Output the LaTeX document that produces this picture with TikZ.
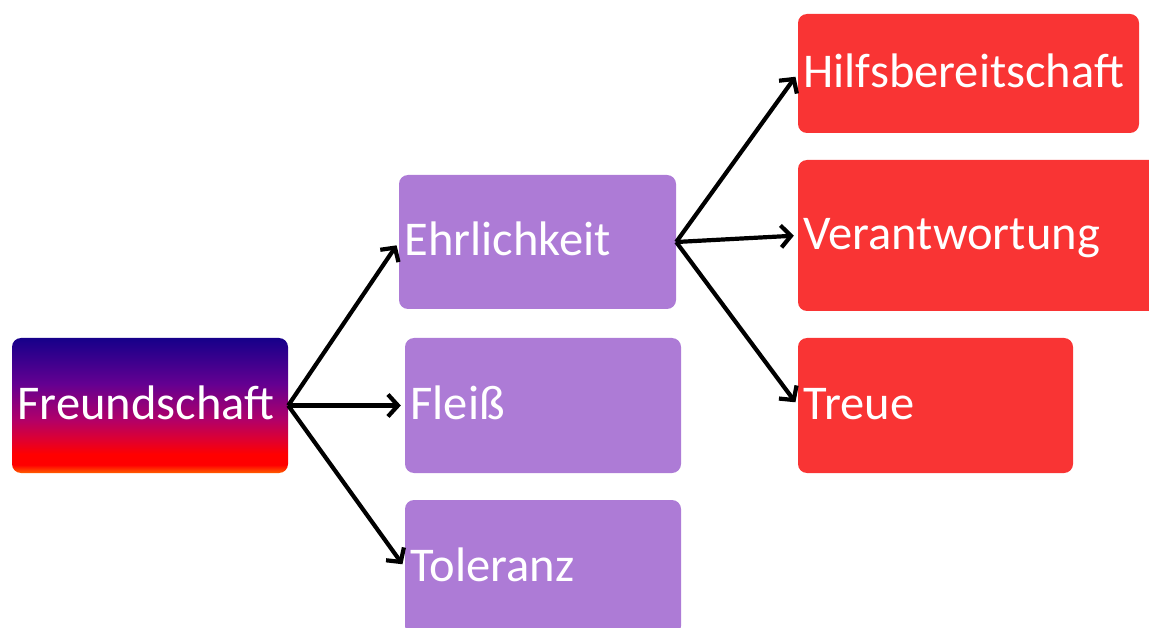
\documentclass[tikz,border=0pt]{standalone}
\usepackage{fontspec}
\setmainfont{Carlito}
\usetikzlibrary{arrows.meta}

\definecolor{lila}{RGB}{173,123,214}
\definecolor{rot}{RGB}{249,52,52}
\definecolor{tiefblau}{RGB}{22,0,138}
\definecolor{violett}{RGB}{100,0,145}
\definecolor{magenta1}{RGB}{176,0,106}
\definecolor{rotmag}{RGB}{225,0,45}
\definecolor{orangerot}{RGB}{255,95,0}

% top-to-bottom colour run of the root box (usable range 25bp..75bp)
\pgfdeclareverticalshading{wurzel}{100bp}{%
  color(0bp)=(orangerot);
  color(25bp)=(orangerot);
  color(28bp)=(red);
  color(32bp)=(red);
  color(37bp)=(rotmag);
  color(45bp)=(magenta1);
  color(58bp)=(violett);
  color(75bp)=(tiefblau);
  color(100bp)=(tiefblau)}

\tikzset{
  box/.style={rounded corners=9pt, font=\fontsize{48.5}{52}\selectfont,
    text=white, align=left, inner xsep=5.5pt, inner ysep=0pt,
    text height=33pt, text depth=5pt},
  lilabox/.style={box, fill=lila},
  rotbox/.style={box, fill=rot},
  pfeil/.style={line width=4.2pt, -{Straight Barb[length=10pt,width=22pt]},
    shorten >=4pt}
}

\begin{document}
\begin{tikzpicture}[x=1pt, y=-1pt]
  \useasboundingbox (0,0) rectangle (1149,628);
  \clip (0,0) rectangle (1149,628);

  % root
  \node[box, shading=wurzel, text width=265pt, minimum height=135pt] (fr) at (150,405.5) {Freundschaft};

  % second level
  \node[lilabox, text width=266pt, minimum height=134pt] (eh) at (537.5,242) {Ehrlichkeit};
  \node[lilabox, text width=265pt, minimum height=135pt] (fl) at (543,405.5) {Fleiß};
  \node[lilabox, text width=265pt, minimum height=135pt] (to) at (543,567.5) {Toleranz};

  % third level
  \node[rotbox, text width=330pt, minimum height=119pt] (hi) at (968.5,73.5) {Hilfsbereitschaft};
  \node[rotbox, text width=351pt, minimum height=151pt] (ve) at (979,235.5) {Verantwortung};
  \node[rotbox, text width=264pt, minimum height=135pt] (tr) at (935.5,405.5) {Treue};

  % connectors
  \draw[pfeil] (fr.east) -- (eh.west);
  \draw[pfeil] (fr.east) -- (fl.west);
  \draw[pfeil] (fr.east) -- (to.west);
  \draw[pfeil] (eh.east) -- (hi.west);
  \draw[pfeil] (eh.east) -- (ve.west);
  \draw[pfeil] (eh.east) -- (tr.west);
\end{tikzpicture}
\end{document}
